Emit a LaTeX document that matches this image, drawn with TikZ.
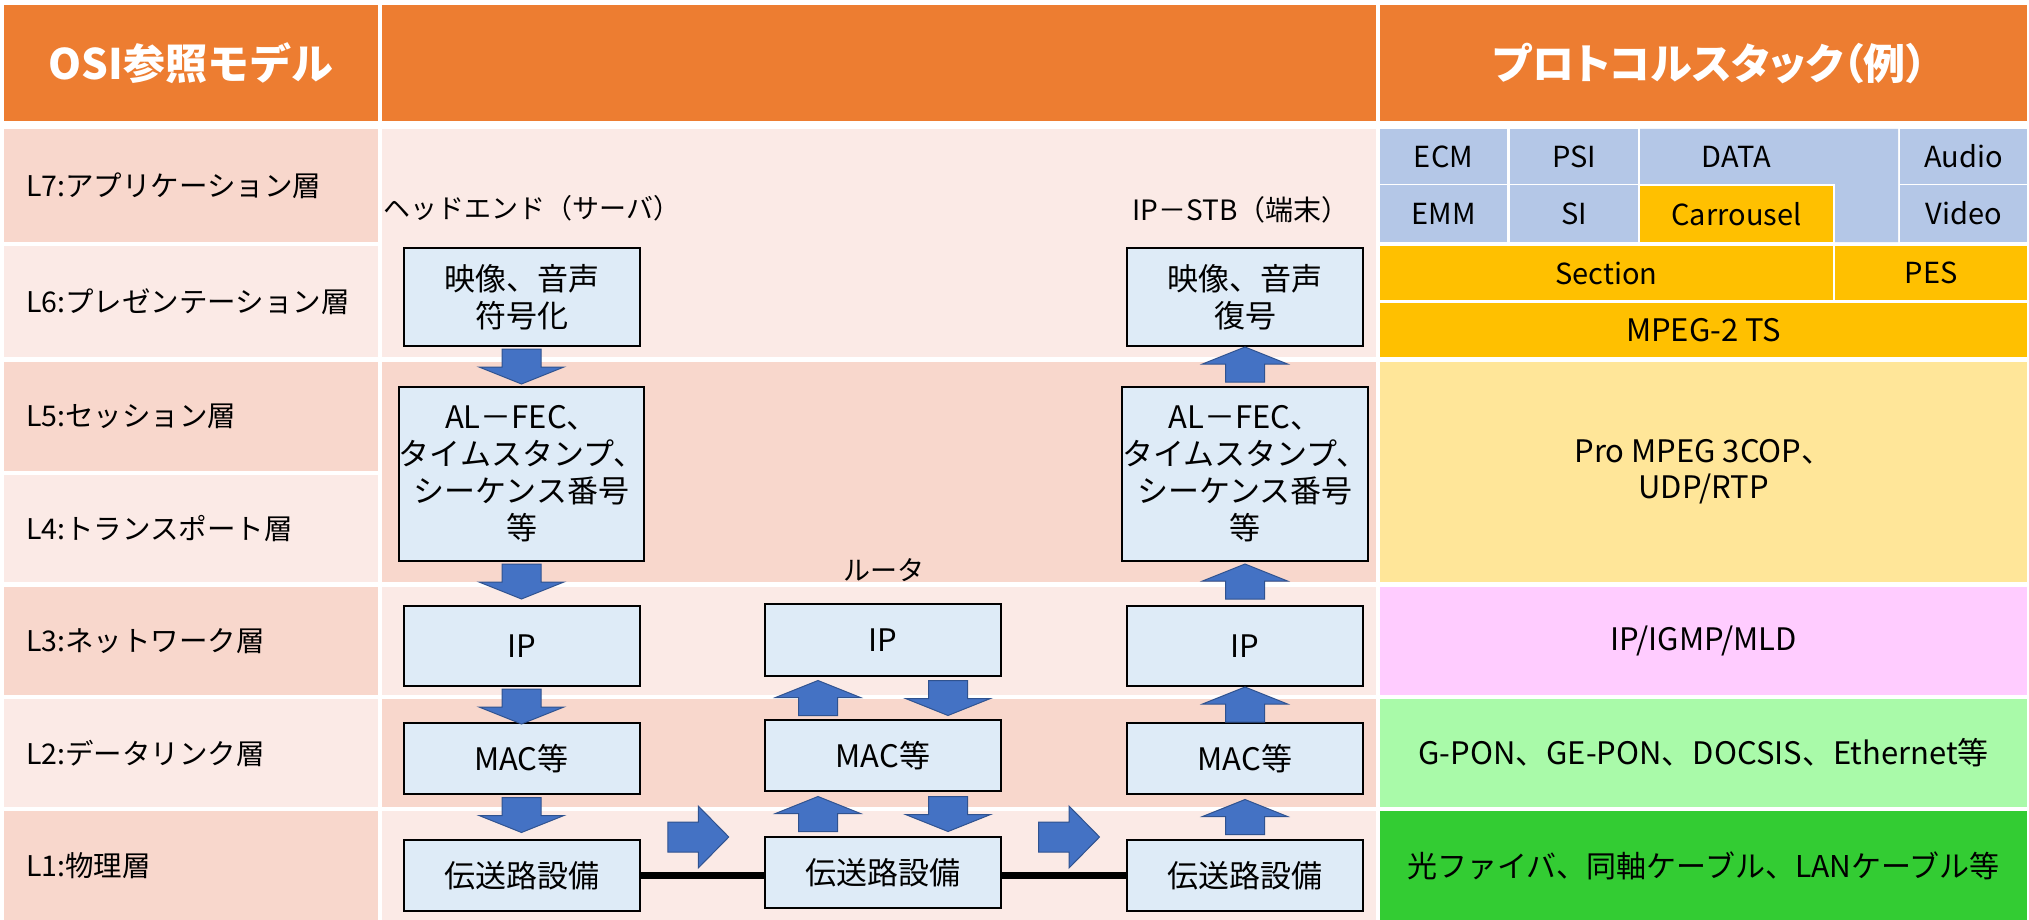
\documentclass[tikz,border=0pt]{standalone}
\usepackage{fontspec}
\setmainfont{Noto Sans CJK JP}
\usetikzlibrary{calc}
\definecolor{hdr}{HTML}{ED7D31}
\definecolor{bandD}{HTML}{F8D7CC}
\definecolor{bandL}{HTML}{FBEAE6}
\definecolor{boxF}{HTML}{DEEBF7}
\definecolor{arrF}{HTML}{4472C4}
\definecolor{arrD}{HTML}{2F528F}
\definecolor{cBlue}{HTML}{B4C7E7}
\definecolor{cGold}{HTML}{FFC000}
\definecolor{cYel}{HTML}{FFE699}
\definecolor{cPink}{HTML}{FFCCFF}
\definecolor{cLGreen}{HTML}{A9FAA9}
\definecolor{cGreen}{HTML}{33CC33}
\tikzset{
  cellbox/.style={draw=none, inner sep=0pt, align=center, font=\fontsize{29}{36}\selectfont},
  rtext/.style={font=\fontsize{31}{36}\selectfont},
  hdrcell/.style={cellbox, fill=hdr, minimum height=116pt, text=white, font=\fontsize{42}{48}\selectfont\bfseries},
  lcell/.style={draw=none, inner xsep=22pt, inner ysep=0pt, text width=330pt, align=left, minimum width=374pt, font=\fontsize{28.5}{32}\selectfont},
  mcell/.style={draw=none, inner sep=0pt, minimum width=994pt},
  rcell/.style={cellbox, minimum width=647pt},
  blk/.style={draw=black, line width=2pt, fill=boxF, inner sep=0pt, minimum width=236pt, align=center, font=\fontsize{31}{37}\selectfont},
  lbl/.style={inner sep=0pt, font=\fontsize{27}{30}\selectfont},
  arr/.style={fill=arrF, draw=arrD, line width=1pt},
  link/.style={line width=7pt, black},
  downarr/.pic={\path[arr] (-19.5,-17.5) -- (19.5,-17.5) -- (19.5,0.5) -- (42.5,0.5) -- (0,17.5) -- (-42.5,0.5) -- (-19.5,0.5) -- cycle;},
  uparr/.pic={\path[arr] (-19.5,17.5) -- (19.5,17.5) -- (19.5,-0.5) -- (42.5,-0.5) -- (0,-17.5) -- (-42.5,-0.5) -- (-19.5,-0.5) -- cycle;},
  rightarr/.pic={\path[arr] (-30.5,-15) -- (0,-15) -- (0,-31) -- (30.5,0) -- (0,31) -- (0,15) -- (-30.5,15) -- cycle;}
}
\begin{document}
\begin{tikzpicture}[x=1pt,y=-1pt]
\useasboundingbox[fill=white] (0,0) rectangle (2029,920);
% header
\node[hdrcell, minimum width=374pt] (hL) at (191,63) {OSI参照モデル};
\node[hdrcell, minimum width=994pt] (hM) at (879,63) {};
\node[hdrcell, minimum width=647pt] (hR) at (1703.5,63) {};
\node[text=white, inner sep=0pt, font=\fontsize{42}{48}\selectfont\bfseries\addfontfeature{RawFeature=+palt}] (tR) at (1710,63) {プロトコルスタック（例）};
% left column
\node[lcell, fill=bandD, minimum height=113pt] (c7) at (191,185.5) {L7:アプリケーション層};
\node[lcell, fill=bandL, minimum height=111pt] (c6) at (191,301.5) {L6:プレゼンテーション層};
\node[lcell, fill=bandD, minimum height=109pt] (c5) at (191,416.5) {L5:セッション層};
\node[lcell, fill=bandL, minimum height=107pt] (c4) at (191,528.5) {L4:トランスポート層};
\node[lcell, fill=bandD, minimum height=108pt] (c3) at (191,641) {L3:ネットワーク層};
\node[lcell, fill=bandL, minimum height=108pt] (c2) at (191,753) {L2:データリンク層};
\node[lcell, fill=bandD, minimum height=109pt] (c1) at (191,865.5) {L1:物理層};
% middle column
\node[mcell, fill=bandL, minimum height=228pt] (m76) at (879,243) {};
\node[mcell, fill=bandD, minimum height=220pt] (m54) at (879,472) {};
\node[mcell, fill=bandL, minimum height=108pt] (m3) at (879,641) {};
\node[mcell, fill=bandD, minimum height=108pt] (m2) at (879,753) {};
\node[mcell, fill=bandL, minimum height=109pt] (m1) at (879,865.5) {};
% right column
\node[cellbox, fill=cBlue, minimum width=127pt, minimum height=55pt] (ecm) at (1443.5,156.5) {ECM};
\node[cellbox, fill=cBlue, minimum width=127pt, minimum height=57pt] (emm) at (1443.5,213.5) {EMM};
\node[cellbox, fill=cBlue, minimum width=128pt, minimum height=55pt] (psi) at (1574,156.5) {PSI};
\node[cellbox, fill=cBlue, minimum width=128pt, minimum height=57pt] (si) at (1574,213.5) {SI};
\fill[cBlue] (1640,129) -- (1898,129) -- (1898,242) -- (1835,242) -- (1835,184) -- (1640,184) -- cycle;
\node[cellbox] (data) at (1736.5,156.5) {DATA};
\node[cellbox, fill=cGold, minimum width=193pt, minimum height=56pt] (car) at (1736.5,214) {Carrousel};
\node[cellbox, fill=cBlue, minimum width=127pt, minimum height=55pt] (aud) at (1963.5,156.5) {Audio};
\node[cellbox, fill=cBlue, minimum width=127pt, minimum height=57pt] (vid) at (1963.5,213.5) {Video};
\node[cellbox, fill=cGold, minimum width=453pt, minimum height=54pt] (sec) at (1606.5,273) {Section};
\node[cellbox, fill=cGold, minimum width=192pt, minimum height=54pt] (pes) at (1931,273) {PES};
\node[rcell, fill=cGold, minimum height=54pt, rtext] (ts) at (1703.5,330) {MPEG-2 TS};
\node[rcell, fill=cYel, minimum height=220pt, rtext] (pro) at (1703.5,472) {Pro MPEG 3COP、\\UDP/RTP};
\node[rcell, fill=cPink, minimum height=108pt, rtext] (igmp) at (1703.5,641) {IP/IGMP/MLD};
\node[rcell, fill=cLGreen, minimum height=108pt, rtext] (gpon) at (1703.5,753) {G-PON、GE-PON、DOCSIS、Ethernet等};
\node[rcell, fill=cGreen, minimum height=109pt, font=\fontsize{30}{36}\selectfont] (phys) at (1703.5,865.5) {光ファイバ、同軸ケーブル、LANケーブル等};
% labels
\node[lbl] (tHE) at (532,208) {ヘッドエンド（サーバ）};
\node[lbl, font=\fontsize{28}{30}\selectfont] (tST) at (1241,210) {IP－STB（端末）};
\node[lbl] (tRT) at (884,570) {ルータ};
% boxes
\node[blk, minimum height=98pt] (lENC) at (521.5,297) {映像、音声\\符号化};
\node[blk, minimum height=174pt] (lFEC) at (521.5,474) {AL－FEC、\\タイムスタンプ、\\シーケンス番号\\等};
\node[blk, minimum height=80pt] (lIP) at (521.5,646) {IP};
\node[blk, minimum height=71pt] (lMAC) at (521.5,758.5) {MAC等};
\node[blk, minimum height=71pt] (lPHY) at (521.5,875.5) {伝送路設備};
\node[blk, minimum height=72pt] (rIP) at (883,640) {IP};
\node[blk, minimum height=71pt] (rMAC) at (883,755.5) {MAC等};
\node[blk, minimum height=71pt] (rPHY) at (883,872.5) {伝送路設備};
\node[blk, minimum height=98pt] (sDEC) at (1245,297) {映像、音声\\復号};
\node[blk, minimum height=174pt] (sFEC) at (1245,474) {AL－FEC、\\タイムスタンプ、\\シーケンス番号\\等};
\node[blk, minimum height=80pt] (sIP) at (1245,646) {IP};
\node[blk, minimum height=71pt] (sMAC) at (1245,758.5) {MAC等};
\node[blk, minimum height=71pt] (sPHY) at (1245,875.5) {伝送路設備};
% links
\draw[link] (lPHY.east) -- (lPHY.east -| rPHY.west);
\draw[link] (rPHY.east |- lPHY.east) -- (lPHY.east -| sPHY.west);
% arrows
\pic at ($(lENC.south)!0.5!(lFEC.north)$) {downarr};
\pic at ($(lFEC.south)!0.5!(lIP.north)+(0,-2)$) {downarr};
\pic at ($(lIP.south)!0.5!(lMAC.north)+(0,2)$) {downarr};
\pic at ($(lMAC.south)!0.5!(lPHY.north)+(0,-2)$) {downarr};
\pic at ($(rIP.south)!0.5!(rMAC.north)+(-65,0)$) {uparr};
\pic at ($(rIP.south)!0.5!(rMAC.north)+(65,0)$) {downarr};
\pic at ($(rMAC.south)!0.5!(rPHY.north)+(-65,0)$) {uparr};
\pic at ($(rMAC.south)!0.5!(rPHY.north)+(65,0)$) {downarr};
\pic at ($(sDEC.south)!0.5!(sFEC.north)+(0,-2)$) {uparr};
\pic at ($(sFEC.south)!0.5!(sIP.north)+(0,-2)$) {uparr};
\pic at ($(sIP.south)!0.5!(sMAC.north)$) {uparr};
\pic at ($(sMAC.south)!0.5!(sPHY.north)$) {uparr};
\pic at ($(lPHY.east)!0.5!(rPHY.west)+(-4,-37)$) {rightarr};
\pic at ($(rPHY.east)!0.5!(sPHY.west)+(5,-37)$) {rightarr};
\end{tikzpicture}
\end{document}
